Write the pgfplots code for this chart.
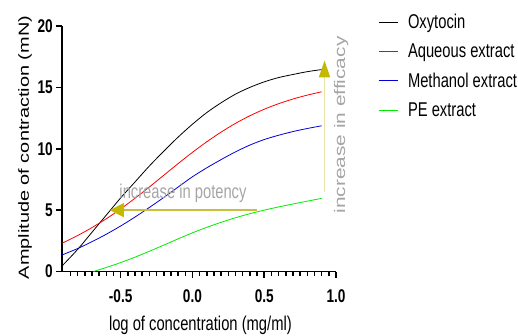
\documentclass[border=0pt]{standalone}
\usepackage{fontspec}
\setmainfont{Liberation Sans}[FakeStretch=0.74]
\newfontfamily\rotfont{Liberation Sans}[FakeStretch=1.36]
\usepackage{pgfplots}
\pgfplotsset{compat=1.18}
\usetikzlibrary{arrows.meta}
\definecolor{cblue}{RGB}{0,0,215}
\definecolor{cgreen}{RGB}{0,235,0}
\definecolor{cred}{RGB}{255,0,0}
\definecolor{txtgray}{RGB}{165,165,165}
\definecolor{hline}{RGB}{200,192,60}
\definecolor{headolive}{RGB}{195,185,0}
\definecolor{vline}{RGB}{232,228,165}
\begin{document}
\begin{tikzpicture}[x=1bp,y=1bp]
\path[use as bounding box] (0,0) rectangle (518,335);
\begin{axis}[
  at={(62bp,63.5bp)}, anchor=south west,
  width=274bp, height=245.5bp, scale only axis,
  xmin=-0.909, xmax=1.0, ymin=0, ymax=20,
  axis lines=left, axis line style={-, line width=1.8bp},
  clip=false,
  xtick={-0.5,0,0.5,1},
  minor xtick={-0.85,-0.8,...,0.96},
  ytick={0,5,10,15,20},
  tick align=outside,
  major tick length=6bp, minor tick length=4bp,
  every tick/.style={black, line width=1.5bp},
  /pgf/number format/assume math mode=true,
  x tick label style={/pgf/number format/fixed, /pgf/number format/fixed zerofill, /pgf/number format/precision=1},
  tick label style={font=\fontsize{18.5}{20}\selectfont\bfseries},
  xticklabel style={inner sep=0pt, yshift=-12bp},
  yticklabel style={inner sep=0pt, xshift=-3bp},
  xlabel={log of concentration (mg/ml)},
  ylabel={\rotfont\fontsize{14.7}{16}\selectfont Amplitude of contraction (mN)},
  every axis x label/.style={at={(axis description cs:0.505,-0.218)}, anchor=center, font=\fontsize{20}{24}\selectfont},
  every axis y label/.style={at={(axis description cs:-0.135,0.505)}, anchor=center, rotate=90},
  legend cell align=left,
  legend style={at={(rel axis cs:1.1533,1.0558)}, anchor=north west, draw=none, fill=none,
    inner sep=0pt, row sep=10.3bp, font=\fontsize{20}{24}\selectfont,
    nodes={inner sep=0pt, text height=16bp, text depth=3bp},
    /tikz/every odd column/.style={column sep=10bp}},
  legend image code/.code={\draw[#1] (0bp,0bp) -- (19bp,0bp);},
]
\addplot[black, line width=0.8bp, smooth] coordinates {
(-0.909,0.45) (-0.8,1.8) (-0.7,3.2) (-0.6,4.6) (-0.5,6.0) (-0.4,7.3) (-0.3,8.6) (-0.2,9.8) (-0.1,10.95) (0,12.0) (0.1,12.95) (0.2,13.75) (0.3,14.45) (0.4,15.0) (0.5,15.45) (0.6,15.8) (0.7,16.05) (0.8,16.28) (0.9,16.45)};
\addlegendentry{Oxytocin}
\addplot[cred, line width=0.8bp, smooth] coordinates {
(-0.909,2.3) (-0.8,2.93) (-0.7,3.58) (-0.6,4.3) (-0.5,5.1) (-0.4,5.97) (-0.3,6.89) (-0.2,7.84) (-0.1,8.79) (0,9.71) (0.1,10.57) (0.2,11.36) (0.3,12.07) (0.4,12.69) (0.5,13.22) (0.6,13.67) (0.7,14.05) (0.8,14.37) (0.9,14.64)};
\addlegendentry{Aqueous extract}
\addplot[cblue, line width=0.8bp, smooth] coordinates {
(-0.909,1.35) (-0.8,1.87) (-0.7,2.43) (-0.6,3.04) (-0.5,3.71) (-0.4,4.44) (-0.3,5.22) (-0.2,6.03) (-0.1,6.88) (0,7.72) (0.1,8.45) (0.2,9.12) (0.3,9.75) (0.4,10.3) (0.5,10.75) (0.6,11.1) (0.7,11.4) (0.8,11.65) (0.9,11.87)};
\addlegendentry{Methanol extract}
\addplot[cgreen, line width=0.8bp, smooth] coordinates {
(-0.69,0) (-0.6,0.33) (-0.5,0.73) (-0.4,1.17) (-0.3,1.65) (-0.2,2.15) (-0.1,2.66) (0,3.15) (0.1,3.6) (0.2,4.01) (0.3,4.38) (0.4,4.71) (0.5,5.0) (0.6,5.26) (0.7,5.5) (0.8,5.73) (0.9,5.96)};
\addlegendentry{PE extract}
\draw[hline, line width=1.8bp, -{Triangle[length=14bp,width=14bp,fill=headolive,color=headolive]}] (axis cs:0.45,5) -- (axis cs:-0.575,5);
\draw[vline, line width=1.8bp, -{Triangle[length=17bp,width=11bp,fill=headolive,color=headolive]}] (axis cs:0.92,6.5) -- (axis cs:0.92,17.2);
\node[txtgray, font=\fontsize{20}{24}\selectfont, anchor=center] at (axis cs:-0.066,6.37) {increase in potency};
\node[txtgray, rotate=90, font=\rotfont\fontsize{15.4}{17}\selectfont, anchor=center] at (axis cs:1.035,11.93) {increase in efficacy};
\end{axis}
\end{tikzpicture}
\end{document}
